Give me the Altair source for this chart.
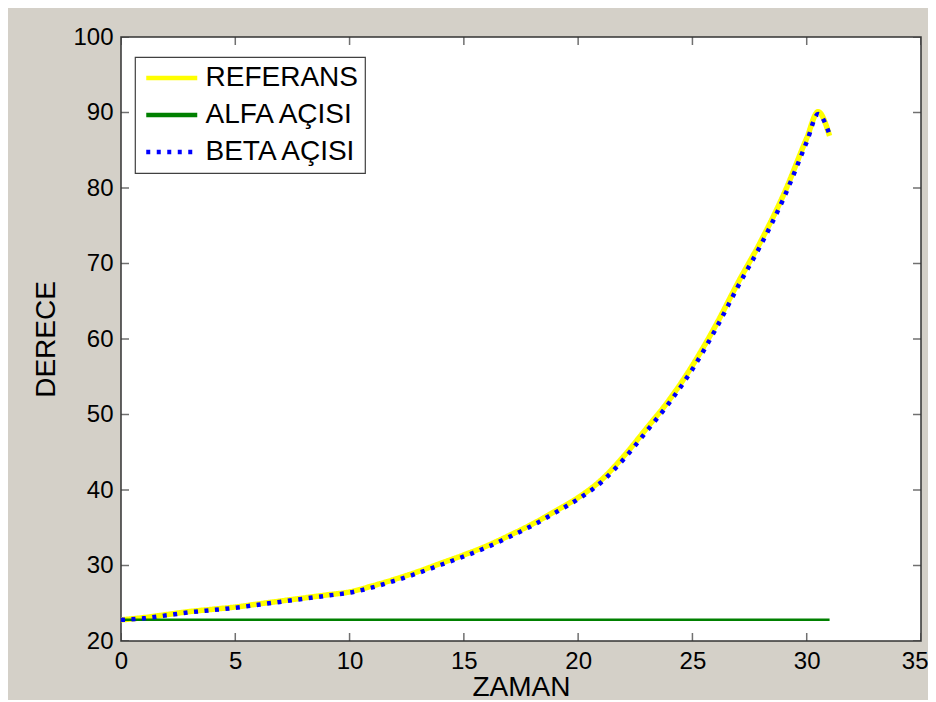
import altair as alt
import pandas as pd

FONT = "Liberation Sans"

# ---- data ----
time_ref = [0, 1, 2, 3, 4, 5, 6, 7, 8, 9, 10, 11, 12, 13, 14, 15, 16, 17, 18, 19,
            20, 21, 22, 23, 24, 25, 26, 27, 28, 29, 30, 30.5, 31]
ref_deg = [22.8, 23.1, 23.5, 23.9, 24.2, 24.5, 24.9, 25.3, 25.7, 26.1, 26.5, 27.3,
           28.2, 29.2, 30.3, 31.4, 32.6, 34.0, 35.5, 37.2, 39.0, 41.3, 44.5, 48.2,
           52.0, 56.5, 61.7, 67.5, 73.0, 79.2, 86.6, 90.1, 86.9]
time_beta = [0, 1, 2, 3, 4, 5, 6, 7, 8, 9, 10, 11, 12, 13, 14, 15, 16, 17, 18, 19,
             20, 21, 22, 23, 24, 25, 26, 27, 28, 29, 30, 30.5, 31]
beta_deg = [22.8, 23.0, 23.4, 23.8, 24.1, 24.4, 24.8, 25.2, 25.6, 26.0, 26.4, 27.1,
            28.0, 29.0, 30.1, 31.2, 32.4, 33.8, 35.3, 37.0, 38.8, 41.0, 44.1, 47.8,
            51.6, 56.0, 61.2, 67.0, 72.5, 78.7, 86.1, 89.8, 87.1]
time_alfa = [0, 31]
alfa_deg = [22.8, 22.8]

series_names = ["REFERANS", "ALFA AÇISI", "BETA AÇISI"]
series_colors = ["#ffff00", "#008000", "#0000ff"]
series_dash = [[1, 0], [1, 0], [4, 6.5]]
series_width = [5.5, 2.5, 4.5]

x_ticks = [0, 5, 10, 15, 20, 25, 30, 35]
y_ticks = [20, 30, 40, 50, 60, 70, 80, 90, 100]

# ---- tables ----
frames = []
for name, wdt, tt, vv in [(series_names[0], series_width[0], time_ref, ref_deg),
                          (series_names[1], series_width[1], time_alfa, alfa_deg),
                          (series_names[2], series_width[2], time_beta, beta_deg)]:
    frames.append(pd.DataFrame({"t": tt, "deg": vv, "series": name, "w": wdt}))
df = pd.concat(frames, ignore_index=True)

xt_df = pd.DataFrame({"t": x_ticks})
yt_df = pd.DataFrame({"deg": y_ticks})

x_scale = alt.Scale(domain=[0, 35], nice=False, zero=False)
y_scale = alt.Scale(domain=[20, 100], nice=False, zero=False)

x_axis = alt.Axis(
    values=x_ticks, title="ZAMAN",
    labelAlign=alt.ExprRef(expr="datum.value == 35 ? 'right' : 'center'"),
    labelOffset=alt.ExprRef(expr="datum.value == 35 ? 7 : 0"),
)
y_axis = alt.Axis(values=y_ticks, title="DERECE")

x_enc = alt.X("t:Q", scale=x_scale, axis=x_axis)
y_enc = alt.Y("deg:Q", scale=y_scale, axis=y_axis)

color_enc = alt.Color("series:N", sort=series_names,
                      scale=alt.Scale(domain=series_names, range=series_colors),
                      legend=alt.Legend(title=None))
dash_enc = alt.StrokeDash("series:N", sort=series_names,
                          scale=alt.Scale(domain=series_names, range=series_dash),
                          legend=alt.Legend(title=None))
width_enc = alt.StrokeWidth("w:Q", scale=None)

base = alt.Chart(df).encode(x=x_enc, y=y_enc, color=color_enc,
                            strokeDash=dash_enc, strokeWidth=width_enc)

layers = [
    base.transform_filter(alt.datum.series == name).mark_line(
        strokeCap="butt", clip=True, interpolate="monotone")
    for name in series_names
]

tick_style = dict(color="#333333", thickness=1.5, size=16, clip=True)
x_tick_enc = alt.X("t:Q", scale=x_scale, axis=x_axis)
y_tick_enc = alt.Y("deg:Q", scale=y_scale, axis=y_axis)

ticks_bottom = alt.Chart(xt_df).mark_tick(orient="vertical", **tick_style).encode(
    x=x_tick_enc, y=alt.YDatum(20, scale=y_scale, axis=y_axis))
ticks_top = alt.Chart(xt_df).mark_tick(orient="vertical", **tick_style).encode(
    x=x_tick_enc, y=alt.YDatum(100, scale=y_scale, axis=y_axis))
ticks_left = alt.Chart(yt_df).mark_tick(orient="horizontal", **tick_style).encode(
    y=y_tick_enc, x=alt.XDatum(0, scale=x_scale, axis=x_axis))
ticks_right = alt.Chart(yt_df).mark_tick(orient="horizontal", **tick_style).encode(
    y=y_tick_enc, x=alt.XDatum(35, scale=x_scale, axis=x_axis))

chart = alt.layer(*layers, ticks_bottom, ticks_top, ticks_left, ticks_right).properties(
    width=800, height=604,
    background="#d4d0c8",
    padding={"left": 113, "top": 29, "right": 7, "bottom": 59},
    autosize=alt.AutoSizeParams(type="none"),
).configure_view(
    fill="white", stroke="#333333", strokeWidth=1.5
).configure_axis(
    grid=False, domain=False, ticks=False,
    labelFont=FONT, labelFontSize=24, labelColor="black",
    titleFont=FONT, titleFontSize=28, titleFontWeight="normal", titleColor="black",
).configure_axisX(
    labelPadding=8, titlePadding=0
).configure_axisY(
    labelPadding=8, titlePadding=12
).configure_legend(
    orient="none", legendX=14, legendY=20,
    fillColor="white", strokeColor="#404040", strokeWidth=1.2,
    padding=7, labelFont=FONT, labelFontSize=28, labelColor="black",
    symbolType="M-0.975,0H4.125", symbolSize=400, symbolStrokeWidth=4.5,
    rowPadding=9, labelOffset=35.5, labelLimit=400,
)

chart.save("out.html", embed_options={"renderer": "svg", "actions": False})
